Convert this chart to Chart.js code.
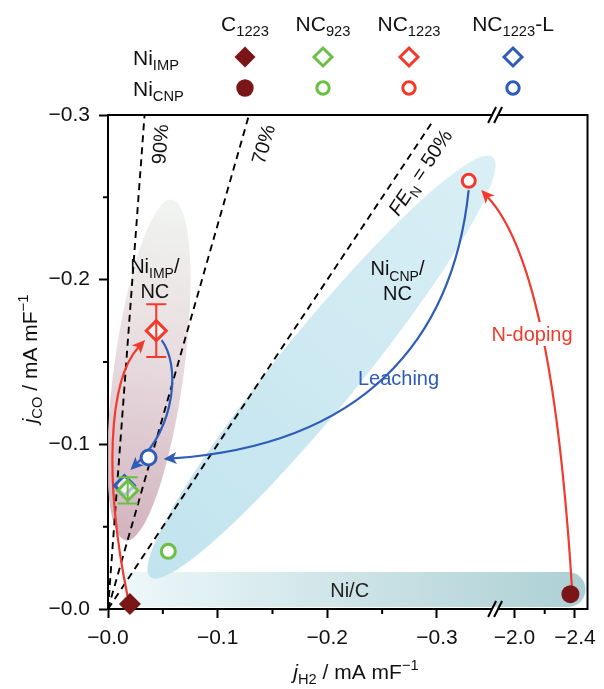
<!DOCTYPE html>
<html>
<head>
<meta charset="utf-8">
<script src="https://cdn.jsdelivr.net/npm/chart.js@4"></script>
<style>
  html, body { margin: 0; padding: 0; background: #fff; }
  canvas { display: block; }
</style>
</head>
<body>
<canvas id="myChart" width="604" height="689"></canvas>
<script>
'use strict';

// samples (legend columns)
const samples = ['C1223', 'NC923', 'NC1223', 'NC1223-L'];
const sampleColors = ['#7a1518', '#6cbf45', '#f2392c', '#2e5cb8'];

// Ni_IMP series (diamonds): j_H2, j_CO and error of j_CO
const impH2 = [-0.020, -0.018, -0.044, -0.015];
const impCO = [-0.003, -0.072, -0.169, -0.075];
const impErr = [0, 0.008, 0.016, 0];

// Ni_CNP series (circles)
const cnpH2 = [-2.37, -0.055, -0.329, -0.037];
const cnpCO = [-0.009, -0.035, -0.260, -0.092];

// FE_N reference lines
const feLevels = [0.9, 0.7, 0.5];
const feTop = [-0.3, -0.3, -0.296];

// ticks
const xTicks = [0, -0.1, -0.2, -0.3, -2.0, -2.4];
const xMinor = [-0.05, -0.15, -0.25, -2.2];
const yTicks = [0, -0.1, -0.2, -0.3];
const yMinor = [-0.05, -0.15, -0.25];

// broken x axis: second segment squeezed after the break
const BREAK_AT = -0.353;
const SEG2_FROM = -2.0, SEG2_POS = -0.3707, SEG2_SCALE = 0.1378;
const X_END = -0.4373;
function bx(v) {
  if (v >= BREAK_AT) return v;
  return SEG2_POS + (v - SEG2_FROM) * SEG2_SCALE;
}
const fmt = v => '\u2212' + Math.abs(v).toFixed(1);

const FONT = "'Liberation Sans', Arial, Helvetica, sans-serif";

// draws text made of parts [text, style] with style '', 'i', 'sub', 'sup'
function rich(ctx, parts, x, y, size, align) {
  const seg = parts.map(([t, s]) => {
    const small = s === 'sub' || s === 'sup';
    const font = (s === 'i' ? 'italic ' : '') + (small ? size * 0.7 : size) + 'px ' + FONT;
    ctx.font = font;
    return { t, font, w: ctx.measureText(t).width, dy: s === 'sub' ? size * 0.26 : s === 'sup' ? -size * 0.4 : 0 };
  });
  const total = seg.reduce((a, b) => a + b.w, 0);
  let cx = align === 'left' ? x : align === 'right' ? x - total : x - total / 2;
  ctx.textAlign = 'left';
  ctx.textBaseline = 'alphabetic';
  const base = y + size * 0.36;
  seg.forEach(s => { ctx.font = s.font; ctx.fillText(s.t, cx, base + s.dy); cx += s.w; });
  return total;
}

// shaded regions (centre in data units, radii in px)
const regions = [
  { cx: -0.0373, cy: -0.1451, rx: 172, ry: 35, angle: -82.3,
    stops: [[0, 'rgba(238,243,238,0.85)'], [0.45, 'rgba(228,214,218,0.85)'], [1, 'rgba(205,170,183,0.9)']] },
  { cx: -0.1947, cy: -0.1469, rx: 271, ry: 40, angle: -50.8,
    stops: [[0, 'rgba(216,238,245,0.95)'], [1, 'rgba(190,226,237,0.95)']] }
];
const band = { x0: -0.0133, y0: -0.0225, y1: -0.0012 };

// curved arrows: start, control 1, control 2, end (axis units)
const arrows = [
  { color: '#f2392c', p: [[-0.0178, -0.0079], [0.0036, -0.0783], [0, -0.139], [-0.0338, -0.1633]] },
  { color: '#2e5cb8', p: [[-0.0489, -0.1633], [-0.0658, -0.1481], [-0.0622, -0.1117], [-0.0204, -0.0844]] },
  { color: '#2e5cb8', p: [[-0.3289, -0.2544], [-0.3147, -0.1633], [-0.2329, -0.0996], [-0.0507, -0.0911]] },
  { color: '#f2392c', p: [[-0.4231, -0.0128], [-0.4124, -0.1269], [-0.3911, -0.2180], [-0.3404, -0.2544]] }
];

const notes = [
  { x: -0.0427, y: -0.2083, color: '#111', lines: [[['Ni', ''], ['IMP', 'sub'], ['/', '']], [['NC', '']]] },
  { x: -0.264, y: -0.2070, color: '#111', lines: [[['Ni', ''], ['CNP', 'sub'], ['/', '']], [['NC', '']]] },
  { x: -0.2649, y: -0.1403, color: '#2e5cb8', lines: [[['Leaching', '']]] },
  { x: -0.3867, y: -0.167, color: '#f2392c', lines: [[['N-doping', '']]], bg: true },
  { x: -0.2204, y: -0.0115, color: '#222', lines: [[['Ni/C', '']]] }
];
const feNotes = [
  { x: -0.0471, y: -0.2823, line: 0, parts: [['90%', '']] },
  { x: -0.1413, y: -0.2823, line: 1, parts: [['70%', '']] },
  { x: -0.2844, y: -0.2653, line: 2, parts: [['FE', 'i'], ['N', 'sub'], [' = 50%', '']] }
];

// datasets
const datasets = [];
feLevels.forEach((fe, i) => {
  const ratio = fe / (1 - fe);
  datasets.push({
    data: [{ x: 0, y: 0 }, { x: feTop[i] / ratio, y: feTop[i] }],
    showLine: true, pointRadius: 0, borderColor: '#000', borderWidth: 1.9,
    borderDash: [7, 5], fill: false, order: 20 + i, arrowsAfter: i === 0
  });
});
const impRadius = [11, 10, 10, 10];
const cnpRadius = [9, 7, 6.5, 7.5];
const drawOrder = [1, 3, 0, 4];
samples.forEach((s, i) => {
  datasets.push({
    label: s + ' Ni_IMP',
    data: [{ x: bx(impH2[i]), y: impCO[i] }],
    pointStyle: 'rectRot', pointRadius: impRadius[i],
    backgroundColor: i === 0 ? sampleColors[0] : 'rgba(255,255,255,0.6)',
    borderColor: sampleColors[i], borderWidth: i === 0 ? 0 : 3,
    clip: false, order: drawOrder[i]
  });
  datasets.push({
    label: s + ' Ni_CNP',
    data: [{ x: bx(cnpH2[i]), y: cnpCO[i] }],
    pointStyle: 'circle', pointRadius: cnpRadius[i],
    backgroundColor: i === 0 ? sampleColors[0] : '#fff',
    borderColor: sampleColors[i], borderWidth: i === 0 ? 0 : 3,
    clip: false, order: 5 + i
  });
});

function drawRegions(chart) {
  const { ctx, chartArea: a, scales: { x, y } } = chart;
  ctx.save();
  ctx.beginPath();
  ctx.rect(a.left, a.top, a.right - a.left, a.bottom - a.top);
  ctx.clip();
  // Ni/C band
  const bl = x.getPixelForValue(band.x0), br = a.right - 2;
  const bt = y.getPixelForValue(band.y0), bb = y.getPixelForValue(band.y1);
  const r = (bb - bt) / 2;
  const g = ctx.createLinearGradient(bl, 0, br, 0);
  g.addColorStop(0, 'rgba(236,247,249,0.95)');
  g.addColorStop(1, 'rgba(168,205,210,0.95)');
  ctx.fillStyle = g;
  ctx.beginPath();
  ctx.moveTo(bl, bt);
  ctx.lineTo(br - r, bt);
  ctx.arc(br - r, bt + r, r, -Math.PI / 2, Math.PI / 2);
  ctx.lineTo(bl, bb);
  ctx.closePath();
  ctx.fill();
  // ellipses
  regions.forEach(e => {
    const cx = x.getPixelForValue(e.cx), cy = y.getPixelForValue(e.cy);
    const ang = e.angle * Math.PI / 180;
    const dx = Math.cos(ang) * e.rx, dy = Math.sin(ang) * e.rx;
    const gr = ctx.createLinearGradient(cx + dx, cy + dy, cx - dx, cy - dy);
    e.stops.forEach(([o, c]) => gr.addColorStop(o, c));
    ctx.fillStyle = gr;
    ctx.beginPath();
    ctx.ellipse(cx, cy, e.rx, e.ry, ang, 0, Math.PI * 2);
    ctx.fill();
  });
  ctx.restore();
}

function drawArrows(chart) {
  const { ctx, scales: { x, y } } = chart;
  ctx.save();
  arrows.forEach(ar => {
    const p = ar.p.map(([u, v]) => [x.getPixelForValue(u), y.getPixelForValue(v)]);
    const ang = Math.atan2(p[3][1] - p[2][1], p[3][0] - p[2][0]);
    const len = 13, hw = 6;
    const ex = p[3][0] - Math.cos(ang) * len * 0.7, ey = p[3][1] - Math.sin(ang) * len * 0.7;
    ctx.strokeStyle = ar.color;
    ctx.fillStyle = ar.color;
    ctx.lineWidth = 2.2;
    ctx.beginPath();
    ctx.moveTo(p[0][0], p[0][1]);
    ctx.bezierCurveTo(p[1][0], p[1][1], p[2][0], p[2][1], ex, ey);
    ctx.stroke();
    ctx.beginPath();
    ctx.moveTo(p[3][0], p[3][1]);
    ctx.lineTo(p[3][0] - Math.cos(ang) * len - Math.sin(ang) * hw, p[3][1] - Math.sin(ang) * len + Math.cos(ang) * hw);
    ctx.lineTo(p[3][0] - Math.cos(ang) * len * 0.75, p[3][1] - Math.sin(ang) * len * 0.75);
    ctx.lineTo(p[3][0] - Math.cos(ang) * len + Math.sin(ang) * hw, p[3][1] - Math.sin(ang) * len - Math.cos(ang) * hw);
    ctx.closePath();
    ctx.fill();
  });
  ctx.restore();
}

function drawErrorBars(chart) {
  const { ctx, scales: { x, y } } = chart;
  ctx.save();
  ctx.lineWidth = 2;
  impErr.forEach((e, i) => {
    if (!e) return;
    const px = x.getPixelForValue(bx(impH2[i]));
    const y1 = y.getPixelForValue(impCO[i] - e), y2 = y.getPixelForValue(impCO[i] + e);
    ctx.strokeStyle = sampleColors[i];
    ctx.beginPath();
    ctx.moveTo(px, y1); ctx.lineTo(px, y2);
    ctx.moveTo(px - 10, y1); ctx.lineTo(px + 10, y1);
    ctx.moveTo(px - 10, y2); ctx.lineTo(px + 10, y2);
    ctx.stroke();
  });
  ctx.restore();
}

function drawNotes(chart) {
  const { ctx, scales: { x, y } } = chart;
  ctx.save();
  notes.forEach(n => {
    const px = x.getPixelForValue(n.x), py = y.getPixelForValue(n.y);
    n.lines.forEach((parts, k) => {
      const ly = py + k * 25;
      if (n.bg) {
        ctx.font = '20px ' + FONT;
        const w = ctx.measureText(parts.map(p => p[0]).join('')).width;
        ctx.fillStyle = '#fff';
        ctx.fillRect(px - w / 2 - 2, ly - 12, w + 4, 24);
      }
      ctx.fillStyle = n.color;
      rich(ctx, parts, px, ly, 20, 'center');
    });
  });
  // FE labels along the dashed lines
  const x0 = x.getPixelForValue(0), y0 = y.getPixelForValue(0);
  feNotes.forEach(f => {
    const ds = chart.data.datasets[f.line].data[1];
    const ang = Math.atan2(y.getPixelForValue(ds.y) - y0, x.getPixelForValue(ds.x) - x0);
    ctx.save();
    ctx.translate(x.getPixelForValue(f.x), y.getPixelForValue(f.y));
    ctx.rotate(ang);
    ctx.fillStyle = '#111';
    rich(ctx, f.parts, 0, 0, 20, 'center');
    ctx.restore();
  });
  ctx.restore();
}

function drawFrame(chart) {
  const { ctx, chartArea: a, scales: { x, y } } = chart;
  ctx.save();
  ctx.strokeStyle = '#000';
  ctx.lineWidth = 2;
  ctx.beginPath();
  ctx.moveTo(a.left - 1, a.top); ctx.lineTo(a.right, a.top); ctx.lineTo(a.right, a.bottom + 1);
  ctx.stroke();
  // minor ticks
  ctx.beginPath();
  xMinor.forEach(v => {
    const px = x.getPixelForValue(bx(v));
    ctx.moveTo(px, a.bottom); ctx.lineTo(px, a.bottom + 5);
  });
  yMinor.forEach(v => {
    const py = y.getPixelForValue(v);
    ctx.moveTo(a.left, py); ctx.lineTo(a.left - 5, py);
  });
  ctx.stroke();
  // axis break marks
  const bp = x.getPixelForValue(BREAK_AT);
  [a.top, a.bottom].forEach(yy => {
    ctx.fillStyle = '#fff';
    ctx.fillRect(bp - 3, yy - 2, 6, 4);
    ctx.beginPath();
    [-3, 3].forEach(o => { ctx.moveTo(bp + o - 4, yy + 8); ctx.lineTo(bp + o + 4, yy - 8); });
    ctx.stroke();
  });
  ctx.restore();
}

function drawLegendTable(chart) {
  const { ctx } = chart;
  const colX = [245, 323, 409, 513];
  const headY = 23, rowY = [57, 88];
  const heads = [
    [['C', ''], ['1223', 'sub']],
    [['NC', ''], ['923', 'sub']],
    [['NC', ''], ['1223', 'sub']],
    [['NC', ''], ['1223', 'sub'], ['-L', '']]
  ];
  ctx.save();
  ctx.fillStyle = '#111';
  heads.forEach((h, i) => rich(ctx, h, colX[i], headY, 21, 'center'));
  rich(ctx, [['Ni', ''], ['IMP', 'sub']], 133, rowY[0], 21, 'left');
  rich(ctx, [['Ni', ''], ['CNP', 'sub']], 133, rowY[1], 21, 'left');
  samples.forEach((s, i) => {
    const c = sampleColors[i], cx = colX[i];
    ctx.strokeStyle = c;
    ctx.fillStyle = c;
    ctx.lineWidth = 3;
    const r = i === 0 ? 10.5 : 9;
    ctx.beginPath();
    ctx.moveTo(cx - r, rowY[0]); ctx.lineTo(cx, rowY[0] - r); ctx.lineTo(cx + r, rowY[0]); ctx.lineTo(cx, rowY[0] + r);
    ctx.closePath();
    if (i === 0) ctx.fill(); else ctx.stroke();
    ctx.beginPath();
    ctx.arc(cx, rowY[1], i === 0 ? 8.7 : 6.2, 0, Math.PI * 2);
    if (i === 0) ctx.fill(); else ctx.stroke();
  });
  ctx.restore();
}

function drawAxisTitles(chart) {
  const { ctx } = chart;
  ctx.save();
  ctx.fillStyle = '#111';
  rich(ctx, [['j', 'i'], ['H2', 'sub'], [' / mA mF', ''], ['\u22121', 'sup']], 356, 671, 21, 'center');
  ctx.translate(29, 359);
  ctx.rotate(-Math.PI / 2);
  rich(ctx, [['j', 'i'], ['CO', 'sub'], [' / mA mF', ''], ['\u22121', 'sup']], 0, 0, 21, 'center');
  ctx.restore();
}

const decor = {
  id: 'decor',
  beforeDatasetsDraw(chart) { drawRegions(chart); },
  afterDatasetDraw(chart, args) {
    if (chart.data.datasets[args.index].arrowsAfter) drawArrows(chart);
  },
  afterDatasetsDraw(chart) { drawErrorBars(chart); drawNotes(chart); },
  afterDraw(chart) { drawFrame(chart); drawLegendTable(chart); drawAxisTitles(chart); }
};

const tickFont = { family: FONT, size: 21 };

const ctx = document.getElementById('myChart');
new Chart(ctx, {
  type: 'scatter',
  data: { datasets },
  options: {
    responsive: false,
    animation: false,
    devicePixelRatio: 1,
    events: [],
    layout: { padding: { top: 115, right: 4, left: 0, bottom: 0 } },
    plugins: { legend: { display: false }, tooltip: { enabled: false } },
    scales: {
      x: {
        type: 'linear', reverse: true, min: X_END, max: 0,
        afterBuildTicks: s => { s.ticks = xTicks.map(v => ({ value: bx(v) })); },
        afterFit: s => { s.height = 80; },
        ticks: { callback: (v, i) => fmt(xTicks[i]), font: tickFont, color: '#111', padding: 8, maxRotation: 0, autoSkip: false },
        grid: { drawOnChartArea: false, tickLength: 9, tickWidth: 2, tickColor: '#000' },
        border: { color: '#000', width: 2 }
      },
      y: {
        type: 'linear', reverse: true, min: -0.3, max: 0,
        afterBuildTicks: s => { s.ticks = yTicks.map(v => ({ value: v })); },
        afterFit: s => { s.width = 108; },
        ticks: { callback: v => fmt(v), font: tickFont, color: '#111', padding: 9 },
        grid: { drawOnChartArea: false, tickLength: 9, tickWidth: 2, tickColor: '#000' },
        border: { color: '#000', width: 2 }
      }
    }
  },
  plugins: [decor]
});
</script>
</body>
</html>
